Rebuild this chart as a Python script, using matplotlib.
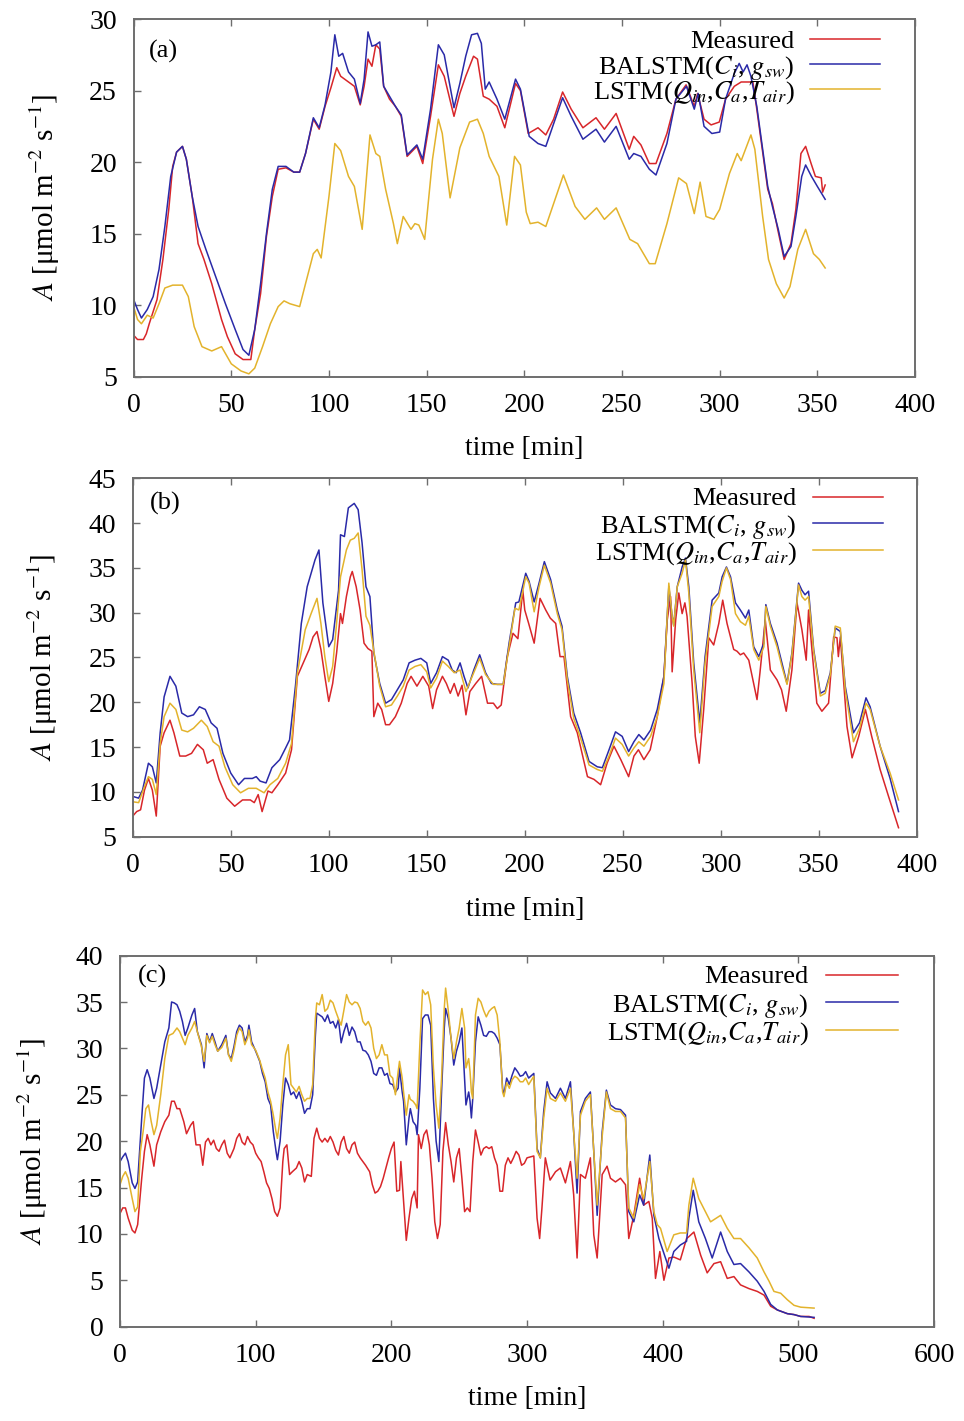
import numpy as np
import matplotlib
matplotlib.use("Agg")
import matplotlib.pyplot as plt

plt.rcParams['font.family'] = ['Liberation Serif', 'DejaVu Serif']
plt.rcParams['mathtext.fontset'] = 'stix'

# ---------------- data (time [min], A [umol m-2 s-1]) ----------------
a_measured = [(0,7.9),(2,7.6),(5,7.6),(6.5,8.0),(8,8.7),(12,10.4),(15,13.2),(18,16.7),(20,19.7),(22,20.7),(25,21.1),(27,20.2),(30,17.6),(33,14.3),(36,13.2),(40,11.5),(45,9.0),(48,7.8),(52,6.6),(56,6.2),(60,6.2),(62,8.3),(65,10.8),(68,14.8),(71,17.6),(74,19.5),(78,19.6),(82,19.3),(85,19.3),(88,20.6),(92,23.0),(95,22.3),(98,23.9),(101,25.2),(104,26.6),(106,26.0),(110,25.6),(113,25.3),(116,24.0),(118,25.3),(120,27.2),(122,26.7),(124,28.2),(126,27.9),(128,25.3),(131,24.4),(134,23.9),(137,23.2),(140,20.4),(145,21.1),(148,19.9),(152,23.2),(156,26.8),(159,26.0),(164,23.2),(167,24.8),(170,26.0),(174,27.4),(176,27.2),(179,24.6),(182,24.4),(186,23.9),(190,22.4),(195.5,25.5),(198,25.0),(202,22.0),(207,22.4),(211,21.9),(215,23.0),(219.6,24.9),(224,23.7),(230,22.4),(236.7,23.1),(241,22.3),(247,23.4),(253.7,20.9),(256,21.8),(259.7,21.2),(264,19.9),(267.4,19.9),(273,22.0),(277.6,24.4),(282.8,25.4),(287,23.9),(288.7,24.8),(292,23.0),(295.6,22.6),(299.8,22.8),(303,24.4),(307.5,25.3),(311,25.6),(314,25.6),(317,25.6),(319,23.7),(324.6,18.1),(327,17.1),(329.7,15.3),(333,13.2),(336.5,14.3),(339,16.7),(341.6,20.6),(344,21.1),(346.8,19.9),(349,19.0),(352,18.9),(352.7,17.9),(354,18.4)]
a_balstm = [(0,10.4),(2,9.7),(4,9.1),(7,9.7),(10,10.6),(13,12.5),(16,15.5),(19,19.0),(22,20.7),(25,21.1),(27,20.2),(30,17.6),(33,15.5),(37,13.9),(42,12.0),(47,10.1),(52,8.3),(56,6.9),(59,6.5),(62,8.3),(65,11.5),(68,15.0),(71,18.1),(74,19.7),(78,19.7),(82,19.3),(85,19.3),(88,20.6),(92,23.1),(95,22.4),(98,24.0),(101,26.3),(103,28.9),(105,27.4),(107,27.6),(110,26.3),(113,25.8),(116,24.1),(118,25.8),(120,29.1),(122,28.1),(124,28.2),(126,28.4),(128,25.3),(131,24.6),(134,23.9),(137,23.3),(140,20.5),(145,21.2),(148,20.2),(152,23.7),(156,28.2),(159,27.5),(164,23.8),(167,25.5),(170,27.4),(173,28.9),(176,29.0),(178,28.3),(180,25.1),(182,25.6),(186,24.4),(190,23.0),(195.5,25.8),(198,25.1),(202.5,21.8),(207,21.3),(211,21.1),(219.6,24.5),(224,23.2),(230,21.6),(236.7,22.3),(241,21.4),(247,22.5),(253.7,20.2),(256,20.6),(259.7,20.4),(264,19.5),(267.4,19.1),(273,21.3),(277.6,24.4),(283,25.3),(287,23.7),(289,24.8),(292,22.5),(296,22.0),(300,22.1),(303,24.4),(307.5,26.2),(310,26.9),(312,26.3),(314,26.8),(316,26.0),(319,23.9),(324.6,18.3),(327,16.9),(330,15.3),(333,13.4),(336.5,14.1),(339,16.2),(342,19.0),(344,19.8),(347,19.0),(350,18.3),(354,17.4)]
a_lstm = [(0,9.9),(2,9.0),(4,8.7),(7,9.3),(10,9.1),(13,10.1),(16,11.2),(20,11.4),(25,11.4),(28,10.6),(31,8.5),(35,7.1),(40,6.8),(45,7.1),(50,5.9),(55,5.4),(59,5.2),(62,5.6),(66,7.1),(70,8.7),(74,9.9),(77,10.3),(80,10.1),(85,9.9),(88,11.5),(92,13.6),(94,13.9),(96,13.3),(100,17.6),(103,21.3),(106,20.8),(110,19.0),(113,18.3),(117,15.3),(121,21.9),(124,20.6),(126,20.4),(129,18.1),(133,15.7),(135,14.3),(138,16.2),(142,15.3),(144,15.7),(146,15.6),(149,14.6),(153,20.2),(156,23.0),(158,22.0),(162,17.5),(167,21.0),(172,22.8),(176,23.0),(179,22.0),(182,20.4),(187,19.0),(191,15.6),(195,20.4),(198,19.8),(201,16.5),(203,15.7),(207,15.8),(211,15.5),(220,19.1),(226,16.9),(231,16.0),(237,16.8),(241,16.0),(247,16.8),(254,14.6),(258,14.3),(264,12.9),(267,12.9),(273,15.7),(279,18.9),(283,18.5),(287,16.4),(290,18.6),(293,16.2),(297,16.0),(300,16.7),(305,19.2),(309,20.6),(311,20.1),(316,21.9),(318,20.9),(322,16.2),(325,13.2),(329,11.5),(333,10.5),(336,11.3),(340,13.9),(344,15.3),(348,13.6),(351,13.2),(354,12.6)]

b_measured = [(0,7.3),(2,7.8),(4,8.0),(6,10.2),(8,11.5),(10,10.2),(12,7.3),(14,15.1),(16,16.6),(19,18.0),(21,16.6),(24,14.0),(27,14.0),(30,14.3),(33,15.3),(36,14.7),(38,13.2),(41,13.6),(44,11.4),(48,9.3),(52,8.4),(56,9.1),(60,9.1),(62,8.8),(64,9.7),(66,7.8),(69,10.1),(71,9.9),(74,10.8),(78,12.1),(81,14.7),(84,22.9),(87,24.4),(90,25.9),(92,27.3),(94,27.9),(96,25.9),(98,22.9),(100,20.1),(102,22.1),(104,25.5),(106,29.9),(107,28.8),(109,31.8),(111,34.0),(112,34.6),(114,32.9),(116,30.3),(118,26.6),(120,26.0),(122,25.7),(123,18.4),(125,19.9),(127,19.2),(129,17.5),(131,17.5),(134,18.4),(137,19.9),(140,22.1),(142,22.9),(145,21.8),(148,22.9),(151,21.8),(153,19.3),(155,21.4),(158,22.9),(160,22.1),(162,21.0),(164,22.1),(166,20.7),(168,21.9),(170,18.6),(172,21.2),(175,22.1),(178,22.9),(181,19.9),(184,19.9),(186,19.3),(188,19.7),(191,25.0),(194,27.7),(196.5,27.1),(199,32.5),(200,30.3),(202,28.8),(204.8,26.6),(207.8,31.6),(210.7,30.3),(213,29.4),(215.8,28.8),(218,25.1),(220,25.1),(223.4,18.4),(226.8,16.6),(232,11.7),(235.3,11.4),(238.7,10.8),(242,13.2),(245.5,15.1),(249,13.6),(253,11.7),(255.7,14.0),(258,14.7),(260.8,13.6),(264,14.7),(267.6,18.4),(271,22.9),(272.7,29.2),(274.4,31.8),(275.2,23.4),(277,29.2),(278.6,32.2),(280.3,29.9),(281.7,31.1),(282.8,29.6),(285.4,22.1),(287,16.2),(289,13.2),(291.3,19.2),(293.9,27.2),(296.4,26.4),(299,28.8),(301,31.4),(303.2,28.8),(306.6,25.9),(308.3,25.7),(310,25.3),(311.7,25.5),(314.3,24.7),(318.5,20.3),(320,23.3),(322.7,29.2),(325.3,23.6),(328.7,22.5),(331,21.4),(333.4,19.0),(336.3,23.6),(338.9,31.1),(341.4,28.1),(343.6,24.7),(344.8,30.3),(346.5,25.9),(349,19.9),(351.6,19.0),(355,19.9),(357.6,27.3),(359.3,27.2),(360,25.1),(361,27.3),(364.4,17.3),(367,13.8),(370.4,16.2),(373.8,19.2),(377,16.2),(381.3,12.5),(385.6,9.5),(390.7,6.0)]
b_balstm = [(0,9.5),(3,9.3),(5,10.2),(8,13.2),(10,12.8),(12,11.0),(14,16.6),(16,20.6),(19,22.9),(22,21.8),(25,18.8),(28,18.4),(31,18.6),(34,19.5),(37,19.2),(40,17.7),(43,17.1),(46,14.3),(50,12.1),(54,10.8),(57,11.5),(61,11.5),(63,11.7),(65,11.2),(68,11.0),(71,12.7),(75,13.6),(78,14.9),(80,15.8),(83,21.8),(86,28.8),(89,32.9),(93,35.9),(95,37.0),(97,31.1),(100,26.2),(102,27.0),(105,32.5),(106,38.7),(108,38.5),(110,41.7),(113,42.2),(115,41.5),(117,37.8),(119,32.9),(121,31.8),(123,25.5),(126,22.1),(129,19.9),(132,20.3),(135,21.4),(138,22.5),(141,24.4),(144,24.7),(147,24.9),(150,24.4),(152,22.1),(155,23.3),(158,25.1),(161,24.7),(163,23.6),(165,23.3),(167,24.4),(169,22.9),(171,21.6),(174,23.6),(177,25.3),(180,23.3),(183,22.1),(186,22.0),(189,22.0),(192,26.6),(195.4,31.1),(197,31.2),(200.5,34.4),(202.2,33.5),(204.8,31.2),(207.3,33.3),(210,35.7),(213.2,33.7),(216.6,30.3),(219,28.5),(221.7,22.9),(225,18.8),(228.5,16.6),(232.8,13.4),(237,12.8),(239.6,12.7),(243,14.7),(246.3,16.7),(249.7,16.2),(253,14.5),(255.7,15.6),(258.2,16.4),(260.8,15.8),(264.2,16.9),(267.6,19.2),(271,22.9),(273.5,32.9),(275.2,29.6),(276,28.6),(277.8,32.9),(280.3,35.1),(282,36.1),(283.7,32.9),(286.2,24.4),(289.3,17.7),(292,25.1),(295.6,31.4),(299,32.2),(300.7,34.0),(302.9,35.1),(305,34.0),(307.5,31.1),(310,30.3),(312.6,29.4),(314.3,30.3),(316.8,26.2),(319.4,25.1),(322,26.6),(323,30.9),(325.3,28.8),(328.7,26.6),(331.2,24.4),(333.8,22.1),(336.3,25.5),(339.7,33.3),(341.4,32.5),(343,32.0),(344.8,32.4),(347.4,25.9),(350.8,21.0),(353.3,21.3),(355.9,23.3),(358.4,28.3),(361,27.9),(363.5,21.8),(367.7,16.6),(370.8,17.7),(374.1,20.5),(376.2,19.5),(381.3,15.1),(386.4,11.5),(390.7,7.8)]
b_lstm = [(0,8.9),(3,8.8),(6,10.6),(8,11.7),(10,11.4),(12,9.7),(14,15.4),(16,18.4),(19,19.9),(22,19.2),(25,16.9),(28,16.7),(31,17.1),(35,18.0),(38,17.3),(41,15.6),(44,15.1),(47,12.8),(51,10.8),(55,9.9),(59,10.4),(63,10.4),(67,9.9),(70,10.8),(74,11.5),(78,13.2),(81,15.4),(84,23.3),(88,28.1),(91,29.9),(94,31.6),(96,28.8),(98,25.1),(100,22.3),(102,24.0),(104,28.8),(106,34.0),(109,37.0),(111,38.1),(113,38.3),(115,38.9),(117,34.8),(119,29.6),(121,28.6),(123,25.7),(126,21.8),(129,19.5),(132,19.7),(135,20.7),(138,21.8),(141,23.6),(144,24.0),(147,24.2),(150,23.4),(152,21.6),(155,22.7),(158,24.6),(161,24.0),(164,23.3),(167,23.6),(170,21.2),(174,23.3),(177,24.9),(180,23.1),(184,22.0),(189,22.0),(192,26.2),(195,30.5),(197,30.3),(200.5,34.0),(202.2,33.3),(204.8,30.1),(207.3,32.9),(210,35.3),(213.2,33.3),(216.6,29.9),(219,28.1),(221.7,22.5),(225,18.2),(228.5,16.0),(232.8,13.0),(237,12.5),(239.6,12.3),(243,14.0),(246.3,16.0),(249.7,15.3),(253,14.0),(255.7,14.9),(258.2,15.6),(260.8,15.1),(264.2,16.2),(267.6,18.4),(271,22.1),(273.5,33.3),(275.2,29.6),(276,28.5),(277.8,32.9),(280.3,34.4),(282,35.9),(283.7,32.2),(286.2,23.6),(289.3,16.6),(292,24.4),(295.6,30.7),(299,31.8),(300.7,33.5),(302.9,35.0),(305,33.7),(307.5,29.9),(310,29.0),(312.6,28.6),(314.3,29.6),(316.8,25.9),(319.4,24.7),(322,26.2),(323,30.7),(325.3,28.5),(328.7,26.2),(331.2,24.0),(333.8,22.0),(336.3,25.3),(339.7,33.1),(341.4,31.8),(343,31.4),(344.8,31.8),(347.4,25.7),(350.8,20.7),(353.3,21.0),(355.9,23.1),(358.4,28.5),(361,28.3),(363.5,21.4),(367.7,15.6),(370.8,17.1),(374.1,19.9),(376.2,19.2),(381.3,15.1),(386.4,12.1),(390.7,9.1)]

c_measured = [(0,12.2),(2,12.8),(4,12.8),(6,11.7),(9,10.4),(11,10.1),(13,11.0),(16,16.0),(18,18.9),(20,20.7),(22,19.6),(25,17.3),(27,19.6),(30,21.0),(33,22.1),(36,22.8),(38,24.3),(40,24.3),(42,23.5),(44,23.5),(47,22.1),(49,20.8),(52,21.7),(54,22.1),(56,19.6),(59,19.6),(61,17.4),(63,19.9),(65,20.3),(67,19.6),(69,20.1),(71,19.2),(73,18.9),(75,19.6),(77,20.1),(79,18.7),(81,18.2),(84,19.2),(86,20.3),(88,20.8),(90,19.9),(92,19.6),(94,20.5),(96,19.9),(98,19.6),(100,18.7),(102,18.2),(104,17.8),(106,16.7),(108,15.5),(110,14.9),(112,13.8),(114,12.4),(116,11.9),(118,12.8),(120,17.8),(121,19.2),(123,19.6),(125,16.4),(127,16.7),(130,17.1),(132,17.8),(134,17.1),(136,15.6),(138,16.4),(141,16.2),(143,20.3),(145,21.4),(147,20.3),(149,19.9),(151,20.3),(153,19.9),(155,20.5),(157,19.9),(159,19.0),(161,18.5),(163,19.9),(165,20.5),(167,19.2),(169,18.7),(171,19.6),(173,19.9),(175,18.7),(177,18.2),(179,17.8),(181,17.4),(184,16.7),(186,15.3),(188,14.4),(190,14.6),(192,15.1),(194,16.0),(196,17.1),(198,18.2),(200,19.2),(202,19.9),(204,14.6),(206,14.7),(207,17.8),(209,13.5),(210,11.3),(211,9.3),(213,11.7),(215,13.8),(217,14.6),(219,12.8),(220,20.7),(222,19.2),(224,20.7),(226,21.2),(228,19.6),(230,16.0),(232,11.3),(234,9.5),(236,11.0),(238,18.9),(240,22.0),(242,19.6),(244,17.8),(246,15.6),(248,18.2),(250,19.2),(252,16.0),(254,12.4),(256,12.8),(258,12.4),(260,17.8),(262,21.2),(264,19.9),(266,18.5),(268,19.2),(270,19.4),(272,19.2),(274,19.4),(276,18.2),(278,17.4),(279,16.0),(280,14.6),(282,14.6),(284,17.4),(286,18.2),(288,17.6),(290,18.2),(292,18.9),(294,18.5),(296,17.4),(298,17.6),(300,18.2),(305,18.4),(307.4,11.7),(309.3,9.5),(311,12.8),(313.5,18.2),(317,15.8),(321,16.7),(324.6,17.1),(328.3,15.5),(332,17.8),(334.4,14.2),(336.9,7.4),(339.4,16.4),(343,16.0),(346.7,18.2),(349.2,9.9),(351.7,7.4),(355.4,16.4),(359,17.3),(361.5,16.0),(365.2,15.6),(368.9,16.0),(372.6,15.3),(375,9.5),(378.7,12.0),(383,16.0),(386,13.1),(389.8,13.5),(392.3,11.7),(394.7,5.2),(397.9,8.1),(400.9,5.0),(404.6,7.4),(408.2,7.5),(413,7.2),(417.6,9.5),(419.3,9.7),(423,10.2),(428,7.7),(432.8,5.8),(437.8,6.8),(442.7,7.0),(447.6,5.2),(452.5,5.4),(457.4,4.5),(463.6,4.1),(469.7,3.8),(474.7,3.4),(479.6,2.2),(484.5,1.8),(491.9,1.4),(496.8,1.3),(501.7,1.1),(507.9,1.1),(511.6,0.9)]
c_balstm = [(0,17.8),(2,18.3),(4,18.7),(6,17.8),(9,15.5),(11,14.9),(13,15.6),(16,22.5),(18,26.8),(20,27.7),(22,26.8),(25,24.6),(27,25.7),(30,28.2),(33,30.7),(36,32.2),(38,35.0),(40,34.9),(42,34.7),(44,34.0),(46,32.9),(48,31.4),(50,32.2),(53,33.6),(55,34.3),(57,31.8),(60,30.4),(62,27.9),(64,31.6),(66,30.7),(68,31.6),(70,30.7),(72,29.7),(75,30.4),(78,31.4),(80,29.3),(82,28.9),(84,30.2),(86,31.8),(88,32.5),(90,32.2),(92,30.7),(94,31.4),(95,32.5),(97,30.7),(100,29.7),(103,28.6),(105,27.3),(107,26.4),(109,24.6),(111,23.9),(113,21.0),(115,18.9),(116,18.0),(118,20.0),(120,23.9),(122,26.8),(124,26.1),(126,25.0),(128,25.3),(130,24.6),(132,25.3),(134,24.3),(136,23.0),(138,23.5),(140,23.5),(142,25.0),(144,31.4),(145,33.8),(147,33.6),(149,33.4),(151,32.9),(153,33.6),(155,32.7),(157,32.9),(159,32.2),(161,33.1),(163,30.6),(165,31.8),(167,32.7),(169,31.4),(171,32.3),(173,31.8),(175,30.7),(177,30.7),(179,29.8),(181,29.7),(183,29.3),(185,28.6),(187,27.3),(189,27.1),(191,27.9),(193,27.9),(195,27.1),(197,27.3),(199,26.2),(201,26.1),(203,25.3),(205,25.7),(206,27.9),(208,25.3),(209,24.3),(211,19.6),(213,22.5),(214,23.5),(216,22.1),(218,21.7),(219,20.7),(221,25.7),(223,33.2),(225,33.6),(227,33.6),(229,32.5),(231,24.6),(233,20.0),(235,17.8),(237,25.3),(239,32.2),(240,34.3),(242,33.2),(244,31.1),(246,28.2),(248,29.7),(250,30.7),(252,32.2),(254,26.8),(255,23.9),(257,25.3),(258,24.3),(259,22.5),(260,24.6),(262,30.7),(264,33.4),(266,32.5),(268,31.4),(270,31.3),(272,31.8),(274,31.8),(276,31.6),(278,31.1),(280,30.4),(282,25.7),(283,25.0),(285,26.8),(287,26.1),(289,27.1),(291,27.9),(293,27.5),(295,27.0),(297,27.1),(299,27.5),(301.2,26.8),(305,27.3),(307.4,19.2),(309.8,18.2),(312.3,23.2),(314.8,26.4),(317.2,25.2),(321,24.6),(324.6,25.7),(328.3,24.6),(332,26.4),(334.4,21.0),(336.9,14.4),(339.4,23.2),(343,24.6),(346.7,25.3),(349.2,18.9),(351.7,12.0),(355.4,21.0),(358.5,25.5),(361.5,23.9),(365.2,23.5),(368.9,23.4),(372.6,22.8),(375,12.4),(378.7,11.3),(383,14.2),(386,13.1),(390.5,18.5),(393.5,12.0),(397.2,9.5),(402,7.4),(404.6,6.3),(408.2,8.1),(413,8.8),(417.6,9.2),(419.3,11.7),(422.5,14.7),(426.6,11.3),(431.5,9.5),(436.5,7.4),(442.7,10.2),(447.6,8.1),(452.5,6.7),(457.4,6.8),(463.6,5.9),(469.7,4.9),(474.7,3.8),(479.6,2.4),(484.5,1.8),(491.9,1.4),(496.8,1.3),(501.7,1.1),(511.6,1.0)]
c_lstm = [(0,15.3),(2,16.2),(4,16.7),(6,16.0),(9,13.8),(11,12.4),(13,12.9),(15,18.9),(17,21.0),(19,23.5),(21,23.9),(23,22.1),(25,20.7),(27,21.7),(30,25.0),(33,28.9),(36,31.4),(39,31.6),(42,32.2),(44,31.8),(46,31.1),(48,30.4),(50,31.4),(53,32.2),(55,32.9),(57,31.8),(60,30.2),(62,28.6),(64,31.4),(66,30.6),(68,31.3),(70,30.4),(72,29.7),(75,30.1),(78,31.1),(80,29.3),(82,28.6),(84,29.8),(86,31.4),(88,32.2),(90,31.8),(92,30.4),(94,31.1),(95,32.0),(97,30.4),(100,29.8),(103,28.7),(105,27.7),(107,26.8),(109,25.3),(111,24.3),(113,22.8),(115,21.0),(116,20.3),(118,22.5),(120,26.1),(122,29.3),(124,30.4),(126,26.1),(128,25.7),(130,25.3),(132,25.9),(134,25.0),(136,24.3),(138,24.6),(140,24.6),(142,26.1),(144,33.2),(145,34.9),(147,34.7),(149,35.8),(151,34.0),(153,34.3),(155,35.2),(157,34.9),(159,34.0),(161,33.2),(163,32.5),(165,34.1),(167,35.8),(169,35.0),(171,34.7),(173,35.0),(175,34.9),(177,34.3),(179,32.9),(181,32.5),(183,32.9),(185,32.2),(187,30.0),(189,28.9),(191,29.3),(193,30.4),(195,29.3),(197,29.3),(199,27.1),(201,26.8),(203,25.0),(205,27.5),(206,28.6),(208,26.8),(209,25.3),(211,22.8),(213,25.0),(214,24.5),(216,24.3),(218,23.9),(219,23.5),(221,30.4),(223,36.3),(225,35.8),(227,36.1),(229,34.7),(231,27.9),(233,23.9),(235,21.4),(237,26.8),(239,34.3),(240,36.5),(242,34.0),(244,31.1),(246,28.9),(248,30.7),(250,32.2),(252,34.3),(254,32.2),(255,27.9),(257,28.9),(258,27.5),(259,25.3),(260,24.6),(262,33.6),(264,35.4),(266,35.0),(268,34.1),(270,33.4),(272,34.0),(274,34.3),(276,34.5),(278,33.6),(280,30.7),(282,25.3),(283,24.8),(285,26.3),(287,25.7),(289,26.6),(291,27.0),(293,26.8),(295,26.4),(297,26.4),(299,26.8),(301.2,26.1),(305,27.0),(307.4,18.9),(309.8,18.2),(312.3,22.5),(314.8,25.7),(317.2,24.6),(321,24.3),(324.6,25.2),(328.3,24.3),(332,25.7),(334.4,21.0),(336.9,16.0),(339.4,22.8),(343,24.3),(346.7,25.0),(349.2,18.9),(351.7,13.1),(355.4,20.5),(358.5,25.3),(361.5,23.5),(365.2,23.2),(368.9,23.2),(372.6,22.5),(375,12.8),(378.7,11.7),(383,15.3),(386,13.8),(390.5,17.8),(393.5,12.4),(396,11.0),(398.4,10.6),(403.3,8.1),(408.2,9.9),(413,10.1),(417.6,10.1),(419.3,13.1),(422.5,16.0),(426.6,13.8),(431.5,12.4),(435.3,11.3),(442.7,12.0),(447.6,10.6),(452.5,9.5),(457.4,9.5),(463.6,8.5),(469.7,7.4),(474.7,5.9),(478.4,4.9),(482,3.8),(487,3.6),(491.9,2.9),(496.8,2.3),(501.7,2.1),(511.6,2.0)]

series_labels = ['Measured', r'BALSTM($C_i$, $g_{sw}$)', r'LSTM($Q_{in}$,$C_a$,$T_{air}$)']
series_colors = ['#d8262a', '#2a2aa8', '#e3b32c']
panel_tags = ['(a)', '(b)', '(c)']
x_ticks = [np.arange(0, 401, 50), np.arange(0, 401, 50), np.arange(0, 601, 100)]
y_ticks = [np.arange(5, 31, 5), np.arange(5, 46, 5), np.arange(0, 41, 5)]
x_label = 'time [min]'
y_label = r'$A$ [μmol m$^{-2}$ s$^{-1}$]'

panels = [
    (a_measured, a_balstm, a_lstm),
    (b_measured, b_balstm, b_lstm),
    (c_measured, c_balstm, c_lstm),
]

# layout (figure fractions)
axes_rects = [
    [0.1386, 0.7349, 0.8106, 0.2517],
    [0.1377, 0.4112, 0.8133, 0.2522],
    [0.1245, 0.0664, 0.8444, 0.2611],
]
tag_pos = [(0.020, 0.908), (0.022, 0.931), (0.022, 0.943)]
leg_text_x = [0.846, 0.847, 0.846]
leg_line_x = [(0.866, 0.955), (0.868, 0.957), (0.867, 0.956)]
leg_rows = [(0.944, 0.874, 0.804), (0.948, 0.875, 0.800), (0.948, 0.875, 0.800)]
ylab_x = [-0.092, -0.093, -0.086]
xlab_y = [-0.165, -0.167, -0.160]

fig = plt.figure(figsize=(9.64, 14.21), dpi=100)
spine_col = '#6e6e6e'

for i, data in enumerate(panels):
    ax = fig.add_axes(axes_rects[i])
    for series, col in zip(data, series_colors):
        arr = np.array(series)
        ax.plot(arr[:, 0], arr[:, 1], color=col, lw=1.1)
    ax.set_xlim(x_ticks[i][0], x_ticks[i][-1])
    ax.set_ylim(y_ticks[i][0], y_ticks[i][-1])
    ax.set_xticks(x_ticks[i])
    ax.set_yticks(y_ticks[i])
    ax.tick_params(direction='in', length=5, width=1.0, color=spine_col,
                   labelsize=20, pad=12, top=True, right=False)
    for s in ax.spines.values():
        s.set_color(spine_col)
        s.set_linewidth(1.4)
    ax.set_xlabel(x_label, fontsize=20)
    ax.xaxis.set_label_coords(0.5, xlab_y[i])
    ax.set_ylabel(y_label, fontsize=21)
    ax.yaxis.set_label_coords(ylab_x[i], 0.5)
    ax.text(tag_pos[i][0], tag_pos[i][1], panel_tags[i], transform=ax.transAxes,
            fontsize=19, ha='left', va='center')
    for lab, col, yy in zip(series_labels, series_colors, leg_rows[i]):
        ax.text(leg_text_x[i], yy, lab, transform=ax.transAxes, fontsize=19,
                ha='right', va='center_baseline')
        ax.plot(leg_line_x[i], [yy, yy], transform=ax.transAxes, color=col, lw=1.1)

fig.savefig('out.png', dpi=100)
